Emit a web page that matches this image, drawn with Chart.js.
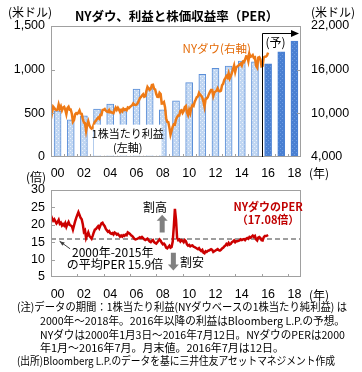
<!DOCTYPE html>
<html><head><meta charset="utf-8">
<script src="https://cdn.jsdelivr.net/npm/chart.js@4.4.0/dist/chart.umd.min.js"></script>
<style>
html,body{margin:0;padding:0;background:#fff;}
body{width:362px;height:372px;position:relative;overflow:hidden;font-family:"Noto Sans CJK JP","Noto Sans",sans-serif;color:#000;}
canvas{position:absolute;left:0;}
#c1{top:0;}
#c2{top:172px;}
.t{position:absolute;white-space:nowrap;line-height:13px;z-index:5;}
.note{transform-origin:0 0;font-size:11px;}
</style></head><body>
<canvas id="c1" width="362" height="185"></canvas>
<canvas id="c2" width="362" height="133"></canvas>
<div class="t" style="left:75px;top:9px;font-size:12.5px;font-weight:bold;">NYダウ、利益と株価収益率（PER）</div>
<div class="t" style="left:8px;top:5px;font-size:12px;">(米ドル)</div>
<div class="t" style="left:311px;top:5px;font-size:12px;">(米ドル)</div>
<div class="t" style="left:309px;top:166px;font-size:12px;">(年)</div>
<div class="t" style="left:26px;top:170px;font-size:12px;">(倍)</div>
<div class="t" style="left:309px;top:288px;font-size:12px;">(年)</div>
<div class="t note" data-w="330" style="left:17px;top:300px;">(注)データの期間：1株当たり利益(NYダウベースの1株当たり純利益) は</div>
<div class="t note" data-w="305" style="left:40px;top:314px;">2000年～2018年。2016年以降の利益はBloomberg L.P.の予想。</div>
<div class="t note" data-w="305" style="left:40px;top:328px;">NYダウは2000年1月3日～2016年7月12日。NYダウのPERは2000</div>
<div class="t note" data-w="244" style="left:40px;top:341px;">年1月～2016年7月。月末値。2016年7月は12日。</div>
<div class="t note" data-w="318" style="left:17px;top:354px;">(出所)Bloomberg L.P.のデータを基に三井住友アセットマネジメント作成</div>
<script>
// ---------------- DATA ----------------
const years = [2000,2001,2002,2003,2004,2005,2006,2007,2008,2009,2010,2011,2012,2013,2014,2015,2016,2017,2018];
const eps   = [530,425,470,550,606,520,777,796,540,644,852,947,1015,1042,1099,1091,1068,1205,1326];
const forecastStart = 2016;
const xTickYears = [2000,2002,2004,2006,2008,2010,2012,2014,2016,2018];
const epsTicks = [0,500,1000,1500];
const dowTicks = [4000,10000,16000,22000];
const perTicks = [5,10,15,20,25,30];
const seriesStartYear = 2000; // monthly series start: Jan 2000
const dowMonthly = [
 10941,10128,10922,10734,10522,10448,10522,11215,10651,10971,10415,10787,
 10887,10495,9879,10735,10912,10502,10523,9950,8848,9075,9852,10022,
 9920,10106,10404,9946,9925,9243,8737,8664,7592,8397,8896,8342,
 8054,7891,7992,8480,8850,8985,9234,9416,9275,9801,9782,10454,
 10488,10584,10358,10226,10188,10435,10140,10174,10080,10027,10428,10783,
 10490,10766,10504,10193,10467,10275,10641,10482,10569,10440,10806,10718,
 10865,10993,11109,11367,11168,11150,11186,11381,11679,12081,12221,12463,
 12622,12269,12354,13063,13628,13409,13212,13358,13896,13930,13372,13265,
 12650,12266,12263,12820,12638,11350,11378,11544,10851,9325,8829,8776,
 8001,7063,7609,8168,8500,8447,9172,9496,9712,9713,10345,10428,
 10067,10325,10857,11009,10137,9774,10466,10015,10788,11118,11006,11578,
 11892,12226,12320,12811,12570,12414,12143,11614,10913,11955,12046,12218,
 12633,12952,13212,13214,12393,12880,13009,13091,13437,13096,13026,13104,
 13861,14054,14579,14840,15116,14910,15500,14810,15130,15546,16086,16577,
 15699,16322,16458,16581,16717,16827,16563,17098,17043,17391,17828,17823,
 17165,18133,17776,17841,18011,17620,17690,16528,16285,17664,17720,17425,
 16466,16517,17685,17774,17787,17930,18347];
const perMonthly = [
 22.6,21.8,21.2,21.6,21.0,20.4,20.8,21.4,20.3,20.6,19.8,20.2,
 19.8,20.5,19.4,20.2,20.8,20.0,19.8,19.6,18.6,19.8,21.0,22.0,
 22.8,23.6,22.8,22.0,21.6,20.2,18.0,18.4,16.2,17.0,17.8,16.8,
 16.4,16.0,16.8,17.8,18.6,18.8,19.2,19.6,19.0,19.8,20.4,20.6,
 20.0,19.6,18.8,18.4,18.0,18.2,17.6,17.4,17.6,17.2,17.8,17.6,
 17.2,17.4,17.0,16.6,16.9,16.6,17.0,16.8,17.2,17.0,17.8,17.6,
 17.4,17.0,16.8,16.4,16.0,15.8,15.9,16.0,16.2,16.4,16.2,16.5,
 16.2,15.8,15.6,15.8,16.0,15.6,15.2,15.0,15.4,15.6,15.0,14.8,
 14.6,15.0,15.4,15.8,15.4,14.8,14.4,14.6,14.2,13.4,13.2,13.6,
 14.0,13.4,13.6,15.2,19.5,24.6,21.5,16.2,15.6,15.8,15.2,15.6,
 15.4,15.0,15.6,15.3,14.4,14.0,14.2,13.8,14.0,14.1,13.7,13.6,
 13.4,13.2,13.0,13.3,12.8,12.5,12.8,12.0,11.8,12.4,12.2,12.5,
 12.6,12.8,13.0,12.8,12.2,12.4,12.6,12.8,13.0,12.7,12.6,12.8,
 13.2,13.4,13.8,14.0,14.5,14.2,14.8,14.3,14.5,15.0,15.2,15.5,
 15.0,15.3,15.3,15.4,15.5,15.8,15.6,15.8,15.9,15.6,16.0,16.2,
 16.0,16.5,16.3,16.6,16.9,16.5,16.8,15.8,15.5,16.3,16.5,16.2,
 15.6,15.5,16.4,16.8,16.8,16.9,17.08];
const perAvg = 15.9;
const perLatest = 17.08;

// ---------------- HELPERS ----------------
Chart.defaults.font.family = "'Liberation Sans', Arial, sans-serif";
Chart.defaults.color = '#000';
const JP = "'Noto Sans CJK JP', sans-serif";
function pattern(bg, dot){
  const c = document.createElement('canvas'); c.width = 4; c.height = 4;
  const g = c.getContext('2d'); g.fillStyle = bg; g.fillRect(0,0,4,4);
  g.fillStyle = dot; g.fillRect(0,0,1,1); g.fillRect(2,2,1,1);
  return g.createPattern(c,'repeat');
}
const monthX = i => seriesStartYear - 0.5 + i/12;
const xMin = years[0]-0.5, xMax = years[years.length-1]+0.5;
const lightFill = pattern('#c0d6f2','#eaf1fb');
const darkFill = pattern('#4a80d2','#6e9de2');
function arrowHead(ctx, x, y, dx, dy, len, w){
  const L = Math.hypot(dx,dy); const ux = dx/L, uy = dy/L;
  ctx.beginPath(); ctx.moveTo(x,y);
  ctx.lineTo(x-ux*len-uy*w/2, y-uy*len+ux*w/2);
  ctx.lineTo(x-ux*len+uy*w/2, y-uy*len-ux*w/2);
  ctx.closePath(); ctx.fill();
}
function blockArrow(ctx, cx, y0, y1, shaft, headW, headL){
  const dir = Math.sign(y1-y0); const hb = y1 - dir*headL;
  ctx.beginPath();
  ctx.moveTo(cx-shaft/2,y0); ctx.lineTo(cx-shaft/2,hb); ctx.lineTo(cx-headW/2,hb);
  ctx.lineTo(cx,y1); ctx.lineTo(cx+headW/2,hb); ctx.lineTo(cx+shaft/2,hb);
  ctx.lineTo(cx+shaft/2,y0); ctx.closePath(); ctx.fill();
}
const xTickCb = v => String(v%100).padStart(2,'0');

// ---------------- CHART 1 ----------------
const deco1 = {
  id:'deco1',
  afterDatasetsDraw(chart){
    const {ctx, chartArea:a, scales:{x,y,y1}} = chart;
    ctx.save();
    ctx.strokeStyle = '#a0a0a0'; ctx.lineWidth = 1;
    ctx.strokeRect(a.left+0.5, a.top+0.5, a.width-1, a.height-1);
    ctx.beginPath();
    epsTicks.slice(1,-1).forEach(v=>{const p=Math.round(y.getPixelForValue(v))+0.5; ctx.moveTo(a.left,p); ctx.lineTo(a.left+4,p);});
    dowTicks.slice(1,-1).forEach(v=>{const p=Math.round(y1.getPixelForValue(v))+0.5; ctx.moveTo(a.right-4,p); ctx.lineTo(a.right,p);});
    years.slice(0,-1).forEach(v=>{const p=Math.round(x.getPixelForValue(v+0.5))+0.5; ctx.moveTo(p,a.bottom); ctx.lineTo(p,a.bottom-3);});
    ctx.stroke();
    // forecast divider + arrow
    const fx = Math.round(x.getPixelForValue(forecastStart-0.5))+0.5;
    const ty = a.top + 7.5;
    ctx.strokeStyle = '#000'; ctx.fillStyle = '#000'; ctx.lineWidth = 1;
    ctx.beginPath(); ctx.moveTo(fx, a.bottom); ctx.lineTo(fx, ty); ctx.lineTo(a.right-8, ty); ctx.stroke();
    arrowHead(ctx, a.right-2, ty, 1, 0, 8, 7);
    ctx.font = "12px " + JP; ctx.textBaseline = 'middle'; ctx.textAlign = 'left';
    ctx.fillText('(予)', fx+3, ty+9);
    // labels
    ctx.fillStyle = '#e46c0a'; ctx.font = "11.5px " + JP;
    ctx.fillText('NYダウ(右軸)', x.getPixelForValue(2009.5), y1.getPixelForValue(18950));
    // EPS label box
    const bx0 = x.getPixelForValue(2002.75), bx1 = x.getPixelForValue(2007.9);
    const by0 = y.getPixelForValue(370), by1 = y.getPixelForValue(15);
    ctx.fillStyle = '#fff'; ctx.fillRect(bx0, by0, bx1-bx0, by1-by0);
    ctx.fillStyle = '#000'; ctx.textAlign = 'center'; ctx.font = "11px " + JP;
    const cx = (bx0+bx1)/2;
    ctx.fillText('1株当たり利益', cx, by0+9);
    ctx.fillText('(左軸)', cx, by0+23);
    ctx.restore();
  }
};
new Chart(document.getElementById('c1'), {
  data:{
    datasets:[
      { type:'line', label:'NYダウ', yAxisID:'y1', order:0,
        data: dowMonthly.map((v,i)=>({x:monthX(i), y:v})),
        borderColor:'#ee7a16', borderWidth:2.5, pointRadius:0, tension:0 },
      { type:'bar', label:'1株当たり利益', yAxisID:'y', order:1,
        data: years.map((yr,i)=>({x:yr, y:eps[i]})),
        backgroundColor: years.map(yr => yr>=forecastStart ? darkFill : lightFill),
        borderColor: years.map(yr => yr>=forecastStart ? '#4a80d2' : '#5b8fd8'),
        borderWidth:1, barThickness:7 }
    ]
  },
  options:{
    responsive:false, animation:false,
    layout:{padding:{top:26,left:0,right:0,bottom:0}},
    plugins:{legend:{display:false}, tooltip:{enabled:false}},
    scales:{
      x:{ type:'linear', min:xMin, max:xMax, offset:false,
          afterBuildTicks:s=>{s.ticks = xTickYears.map(v=>({value:v}));},
          afterFit:s=>{s.height = 28;},
          grid:{display:false, drawTicks:false}, border:{display:false},
          ticks:{callback:xTickCb, padding:9, font:{size:12.5}, maxRotation:0, autoSkip:false} },
      y:{ position:'left', min:epsTicks[0], max:epsTicks[epsTicks.length-1],
          afterBuildTicks:s=>{s.ticks = epsTicks.map(v=>({value:v}));},
          afterFit:s=>{s.width = 51;},
          grid:{display:false, drawTicks:false}, border:{display:false},
          ticks:{callback:v=>v.toLocaleString('en-US'), padding:6, font:{size:12.5}, autoSkip:false} },
      y1:{ position:'right', min:dowTicks[0], max:dowTicks[dowTicks.length-1],
          afterBuildTicks:s=>{s.ticks = dowTicks.map(v=>({value:v}));},
          afterFit:s=>{s.width = 61;},
          grid:{display:false, drawTicks:false}, border:{display:false},
          ticks:{callback:v=>v.toLocaleString('en-US'), padding:10, font:{size:12.5}, autoSkip:false} }
    }
  },
  plugins:[deco1]
});

// ---------------- CHART 2 ----------------
const deco2 = {
  id:'deco2',
  afterDatasetsDraw(chart){
    const {ctx, chartArea:a, scales:{x,y}} = chart;
    ctx.save();
    ctx.strokeStyle = '#a0a0a0'; ctx.lineWidth = 1;
    ctx.strokeRect(a.left+0.5, a.top+0.5, a.width-1, a.height-1);
    ctx.beginPath();
    perTicks.slice(1,-1).forEach(v=>{const p=Math.round(y.getPixelForValue(v))+0.5; ctx.moveTo(a.left,p); ctx.lineTo(a.left+4,p);});
    xTickYears.slice(0,-1).forEach(v=>{const p=Math.round(x.getPixelForValue(v+1.5))+0.5; ctx.moveTo(p,a.bottom); ctx.lineTo(p,a.bottom-3);});
    ctx.stroke();
    // arrows 割高 / 割安
    ctx.fillStyle = '#808080';
    blockArrow(ctx, x.getPixelForValue(2007.95), y.getPixelForValue(17.8), y.getPixelForValue(22.9), 5, 11, 6);
    blockArrow(ctx, x.getPixelForValue(2008.8), y.getPixelForValue(12.0), y.getPixelForValue(6.9), 5, 11, 6);
    ctx.fillStyle = '#000'; ctx.font = "12px " + JP; ctx.textBaseline = 'middle'; ctx.textAlign = 'left';
    ctx.fillText('割高', x.getPixelForValue(2006.5), y.getPixelForValue(25.1));
    ctx.fillText('割安', x.getPixelForValue(2009.3), y.getPixelForValue(9.3));
    ctx.fillText('2000年-2015年', x.getPixelForValue(2001.1), y.getPixelForValue(12.2));
    ctx.fillText('の平均PER ' + perAvg + '倍', x.getPixelForValue(2000.7), y.getPixelForValue(8.5));
    // pointer
    const px0 = x.getPixelForValue(2000.95), py0 = y.getPixelForValue(13.1);
    const px1 = x.getPixelForValue(2000.15), py1 = y.getPixelForValue(15.3);
    ctx.strokeStyle = '#404040'; ctx.fillStyle = '#404040'; ctx.lineWidth = 1;
    ctx.beginPath(); ctx.moveTo(px0,py0); ctx.lineTo(px1,py1); ctx.stroke();
    arrowHead(ctx, px1, py1, px1-px0, py1-py0, 5, 4);
    // PER label
    ctx.fillStyle = '#c00000'; ctx.font = "bold 11px " + JP; ctx.textAlign = 'center';
    const lx = x.getPixelForValue(2016.0);
    ctx.fillText('NYダウのPER', lx, y.getPixelForValue(25.1));
    ctx.fillText('（' + perLatest.toFixed(2) + '倍）', lx, y.getPixelForValue(21.4));
    ctx.restore();
  }
};
new Chart(document.getElementById('c2'), {
  data:{
    datasets:[
      { type:'line', label:'PER', order:0,
        data: perMonthly.map((v,i)=>({x:monthX(i), y:v})),
        borderColor:'#cc0000', borderWidth:2.5, pointRadius:0, tension:0 },
      { type:'line', label:'平均PER', order:1,
        data: [{x:xMin, y:perAvg},{x:xMax, y:perAvg}],
        borderColor:'#7f7f7f', borderWidth:1.5, borderDash:[5,3], pointRadius:0 }
    ]
  },
  options:{
    responsive:false, animation:false,
    layout:{padding:{top:18,left:0,right:61,bottom:0}},
    plugins:{legend:{display:false}, tooltip:{enabled:false}},
    scales:{
      x:{ type:'linear', min:xMin, max:xMax,
          afterBuildTicks:s=>{s.ticks = xTickYears.map(v=>({value:v}));},
          afterFit:s=>{s.height = 28;},
          grid:{display:false, drawTicks:false}, border:{display:false},
          ticks:{callback:xTickCb, padding:10, font:{size:12.5}, maxRotation:0, autoSkip:false} },
      y:{ position:'left', min:perTicks[0], max:perTicks[perTicks.length-1],
          afterBuildTicks:s=>{s.ticks = perTicks.map(v=>({value:v}));},
          afterFit:s=>{s.width = 51;},
          grid:{display:false, drawTicks:false}, border:{display:false},
          ticks:{padding:6, font:{size:12.5}, autoSkip:false} }
    }
  },
  plugins:[deco2]
});

// fit note lines to reference widths
document.querySelectorAll('.note').forEach(el=>{
  const w = el.getBoundingClientRect().width;
  el.style.transform = 'scaleX(' + (Number(el.dataset.w)/w).toFixed(4) + ')';
});
</script>
</body></html>
